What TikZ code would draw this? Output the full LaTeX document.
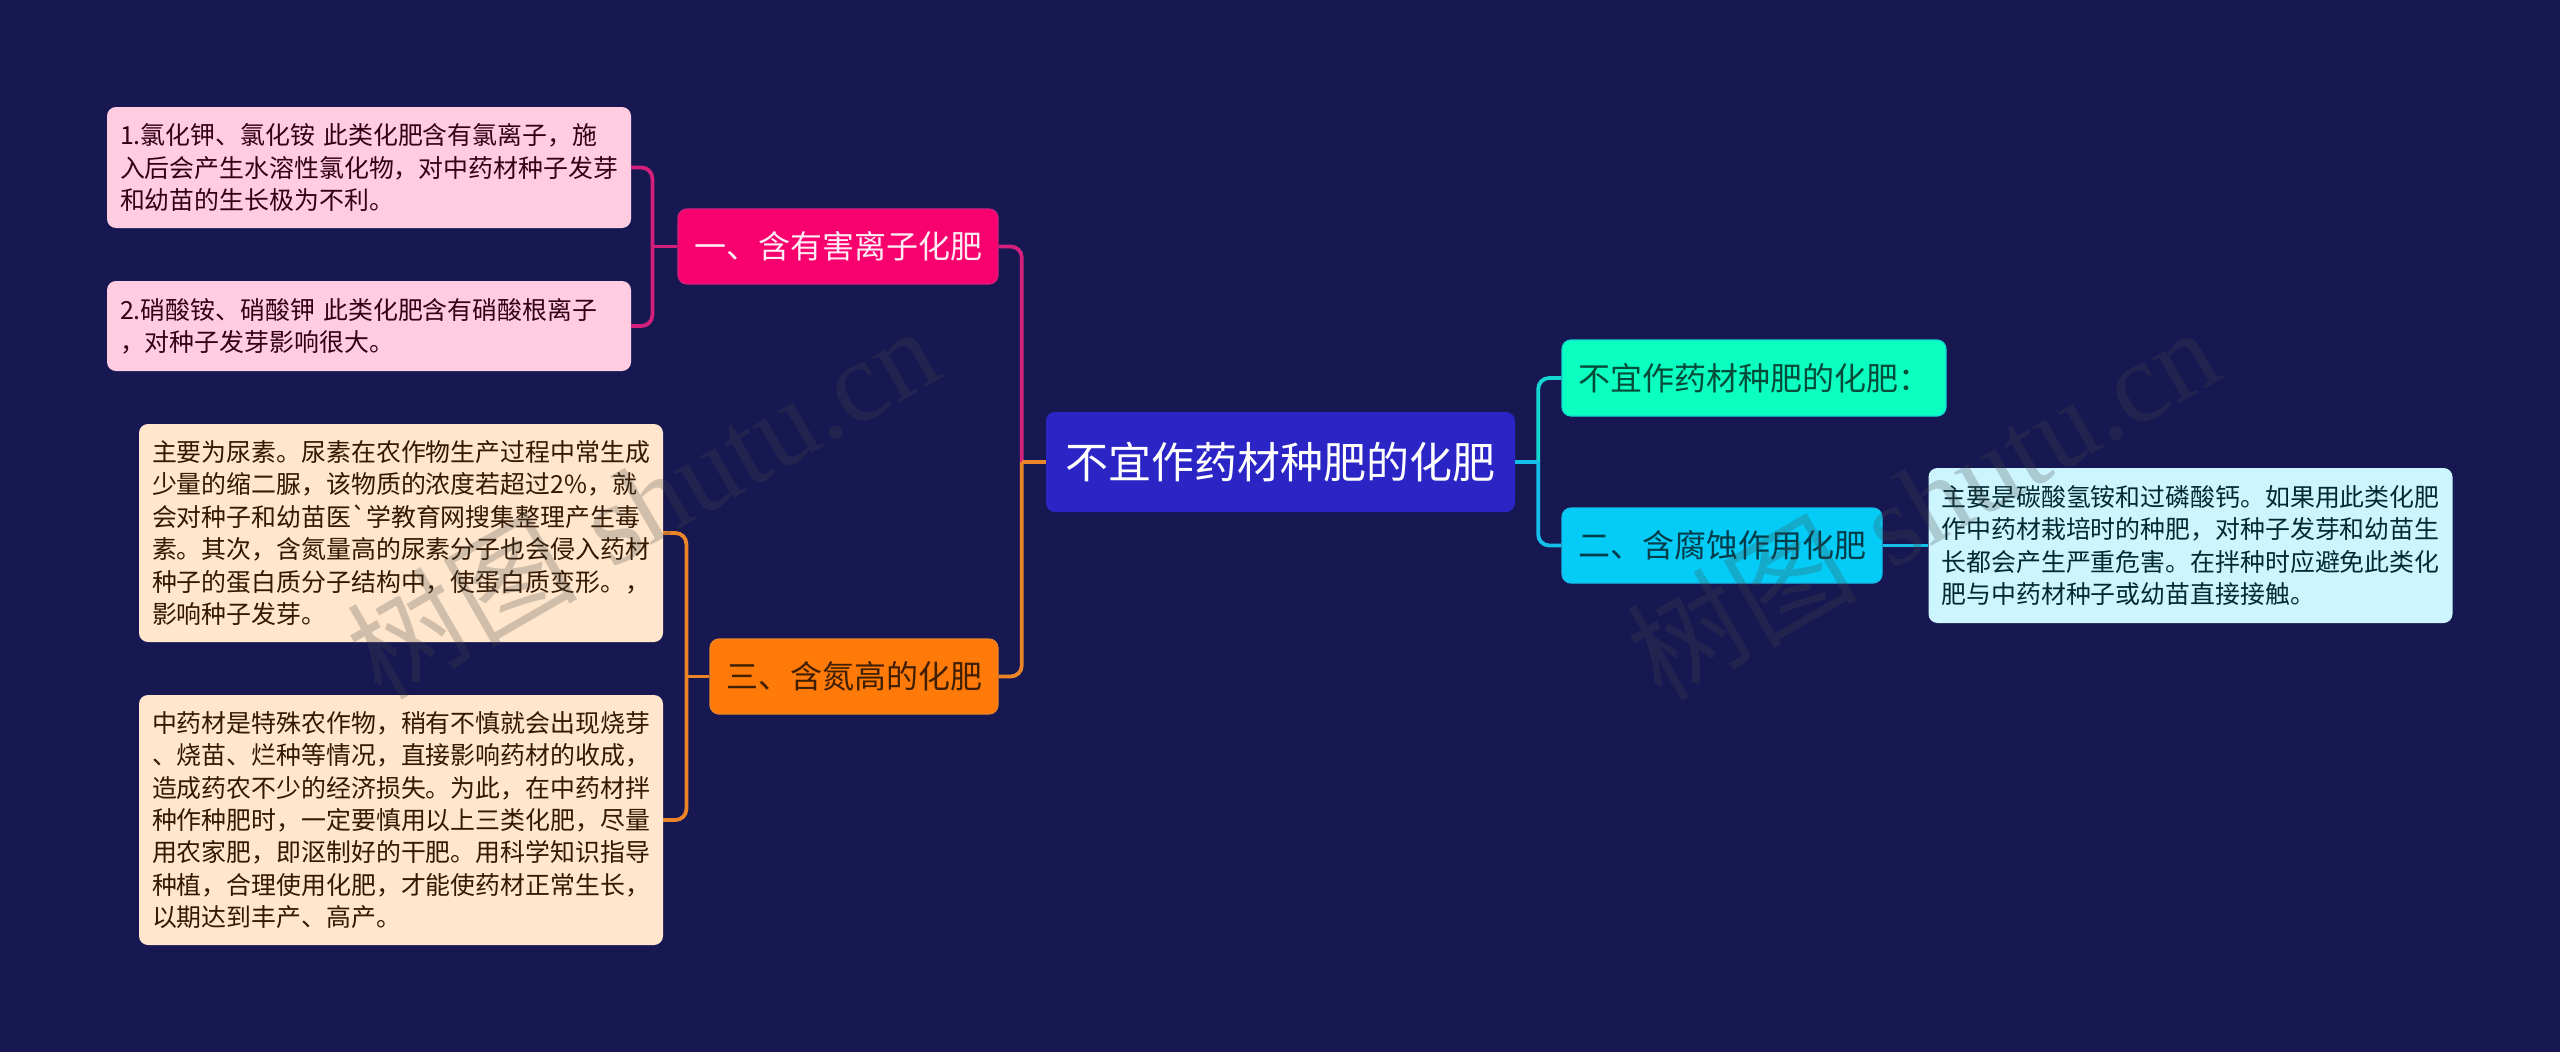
\documentclass[tikz,border=0pt]{standalone}
\usepackage{fontspec}
\newfontfamily\cjk{Noto Sans CJK SC}
\newfontfamily\wmlatin{Liberation Serif}
\usetikzlibrary{positioning}
\usetikzlibrary{calc}

\definecolor{bgblue}{HTML}{171852}
\definecolor{rootblue}{HTML}{2A25C4}
\definecolor{hotpink}{HTML}{F8006E}
\definecolor{linkpink}{HTML}{D41F7C}
\definecolor{lightpink}{HTML}{FFCCE2}
\definecolor{hotorange}{HTML}{FF7A08}
\definecolor{linkorange}{HTML}{EC8428}
\definecolor{lightorange}{HTML}{FFE6CC}
\definecolor{hotgreen}{HTML}{0AFFC0}
\definecolor{linkteal}{HTML}{14D8D4}
\definecolor{hotcyan}{HTML}{04CCF7}
\definecolor{linkcyan}{HTML}{14BEE8}
\definecolor{lightcyan}{HTML}{CCF5FF}

\tikzset{
  boxsize/.style 2 args={minimum width=#1pt, minimum height=#2pt},
  mainbox/.style={fill=rootblue, rounded corners=9pt, inner sep=0pt, text=white, font=\cjk\fontsize{43}{50}\selectfont},
  subbox/.style={rounded corners=9pt, inner sep=0pt, line width=1.2pt, align=center, font=\cjk\fontsize{32}{40}\selectfont},
  leafbox/.style={rounded corners=9pt, inner ysep=0pt, inner xsep=13pt, text width=498pt, align=left, font=\cjk\fontsize{24.9}{32.4}\selectfont},
  link/.style={line width=3.8pt, rounded corners=11pt},
  wmark/.style={rotate=30, text=black!72, opacity=0.25, inner sep=0pt, font=\fontsize{115}{120}\selectfont}
}

\begin{document}
\begin{tikzpicture}[x=1pt,y=-1pt]
	% Fix the page to the size of the picture
	\fill[bgblue] (0,0) rectangle (2560,1052);
	\useasboundingbox (0,0) rectangle (2560,1052);

	\node[mainbox, boxsize={469}{100}] (root) at (1280.5,462) {不宜作药材种肥的化肥};

	\node[subbox, boxsize={320}{75}, fill=hotpink, draw=linkpink, text=white!92!hotpink] (s1) at (838,246.5) {一、含有害离子化肥};
	\node[subbox, boxsize={288}{75}, fill=hotorange, draw=linkorange, text=hotorange!25!black] (s3) at (854,676.5) {三、含氮高的化肥};
	\node[subbox, boxsize={384}{76}, fill=hotgreen, draw=linkteal, text=hotgreen!30!black] (s0) at (1754,378) {不宜作药材种肥的化肥：};
	\node[subbox, boxsize={320}{75}, fill=hotcyan, draw=linkcyan, text=hotcyan!30!black] (s2) at (1722,545.5) {二、含腐蚀作用化肥};

	\node[leafbox, boxsize={524}{121}, fill=lightpink, text=hotpink!20!black] (l1) at (369,167.5) {1.氯化钾、氯化铵 此类化肥含有氯离子，施\\
		入后会产生水溶性氯化物，对中药材种子发芽\\
		和幼苗的生长极为不利。};
	\node[leafbox, boxsize={524}{90}, fill=lightpink, text=hotpink!20!black] (l2) at (369,326) {2.硝酸铵、硝酸钾 此类化肥含有硝酸根离子\\
		，对种子发芽影响很大。};
	\node[leafbox, boxsize={524}{218}, fill=lightorange, text=hotorange!20!black] (l3) at (401,533) {主要为尿素。尿素在农作物生产过程中常生成\\
		少量的缩二脲，该物质的浓度若超过2\%，就\\
		会对种子和幼苗医`学教育网搜集整理产生毒\\
		素。其次，含氮量高的尿素分子也会侵入药材\\
		种子的蛋白质分子结构中，使蛋白质变形。，\\
		影响种子发芽。};
	\node[leafbox, boxsize={524}{250}, fill=lightorange, text=hotorange!20!black] (l4) at (401,820) {中药材是特殊农作物，稍有不慎就会出现烧芽\\
		、烧苗、烂种等情况，直接影响药材的收成，\\
		造成药农不少的经济损失。为此，在中药材拌\\
		种作种肥时，一定要慎用以上三类化肥，尽量\\
		用农家肥，即沤制好的干肥。用科学知识指导\\
		种植，合理使用化肥，才能使药材正常生长，\\
		以期达到丰产、高产。};
	\node[leafbox, boxsize={524}{155}, fill=lightcyan, text=hotcyan!20!black] (l5) at (2190.5,545.5) {主要是碳酸氢铵和过磷酸钙。如果用此类化肥\\
		作中药材栽培时的种肥，对种子发芽和幼苗生\\
		长都会产生严重危害。在拌种时应避免此类化\\
		肥与中药材种子或幼苗直接接触。};

	% Meeting points of the branches
	\coordinate (h0) at ([xshift=-24pt]root.west);
	\coordinate (h1) at ([xshift=23pt]root.east);
	\coordinate (h2) at ([xshift=-25pt]s1.west);
	\coordinate (h3) at ([xshift=-23pt]s3.west);

	\draw[link, linkpink] (s1.east) -| (h0);
	\draw[link, linkorange] (s3.east) -| (h0);
	\draw[link, linkorange] (h0) -- (root.west);
	\draw[link, linkteal] (s0.west) -| (h1);
	\draw[link, linkcyan] (s2.west) -| (h1);
	\draw[link, linkcyan] (h1) -- (root.east);

	\draw[link, linkpink] (l1.east) -| (h2);
	\draw[link, linkpink] (l2.east) -| (h2);
	\draw[link, linkpink] (h2) -- (s1.west);
	\draw[link, linkorange] (l3.east) -| (h3);
	\draw[link, linkorange] (l4.east) -| (h3);
	\draw[link, linkorange] (h3) -- (s3.west);
	\draw[link, linkcyan] (s2.east) -- (l5.west);

	% The two stamps lie over everything else
	\foreach \i/\wx/\wy in {1/642/501, 2/1922/502}
		{\node[wmark] (w\i) at (\wx,\wy) {{\cjk 树图} {\wmlatin shutu.cn}};}
\end{tikzpicture}
\end{document}
